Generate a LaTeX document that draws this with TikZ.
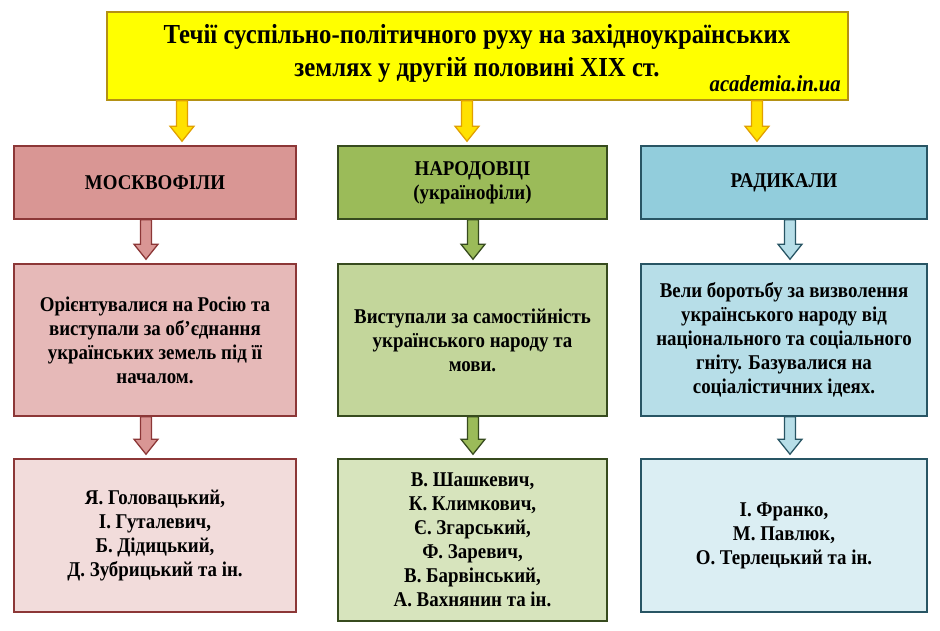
\documentclass[tikz,border=0pt]{standalone}
\usepackage{fontspec}
\setmainfont{Liberation Serif}[FakeStretch=0.9]
\usepackage{tikz}
\usetikzlibrary{calc}

\definecolor{titlefill}{RGB}{255,255,0}
\definecolor{titleline}{RGB}{180,145,20}
\definecolor{arrfill}{RGB}{255,225,0}
\definecolor{arrline}{RGB}{225,160,0}
\definecolor{redA}{RGB}{217,150,148}
\definecolor{redB}{RGB}{230,185,184}
\definecolor{redC}{RGB}{242,220,219}
\definecolor{redline}{RGB}{140,55,55}
\definecolor{greenA}{RGB}{155,187,89}
\definecolor{greenB}{RGB}{195,214,155}
\definecolor{greenC}{RGB}{215,228,189}
\definecolor{greenline}{RGB}{55,75,30}
\definecolor{blueA}{RGB}{146,205,220}
\definecolor{blueB}{RGB}{183,222,232}
\definecolor{blueC}{RGB}{219,238,243}
\definecolor{blueline}{RGB}{40,85,100}

% block arrow from node #3 down to node #4 at the x of coordinate #5
\newcommand{\blockarr}[5]{%
	\coordinate (s) at (#3.south -| #5);
	\coordinate (t) at ($(#4.north -| #5)+(0,-4)$);
	\filldraw[fill=#1, draw=#2, line width=1.3pt, line join=miter]
		($(s)+(-5.5,0)$) -- ($(t)+(-5.5,-15)$) -- ($(t)+(-12,-15)$) -- (t)
		-- ($(t)+(12,-15)$) -- ($(t)+(5.5,-15)$) -- ($(s)+(5.5,0)$) -- cycle;
}

\begin{document}
\begin{tikzpicture}[x=1pt, y=-1pt,
	box/.style={draw, line width=1.5pt, align=center, inner sep=0pt,
		font=\fontsize{21}{24}\selectfont\bfseries},
	wbox/.style={box, minimum height=#1}]
	\useasboundingbox (0,0) rectangle (940,630);
	% title
	\node[box, fill=titlefill, draw=titleline, minimum width=741, minimum height=88,
		font=\fontsize{27.5}{33}\selectfont\bfseries] (title) at (477.5,56) {};
	\node[align=center, inner sep=0pt, font=\fontsize{27.5}{33}\selectfont\bfseries] (head) at (477,53)
		{Течії суспільно-політичного руху на західноукраїнських\\землях у другій половині XIX ст.};
	\node[anchor=east, inner sep=0pt, font=\fontsize{23}{26}\selectfont\bfseries\itshape] (site) at (841,84) {academia.in.ua};
	% first row
	\node[wbox=73, minimum width=282, fill=redA, draw=redline] (mk1) at (155,182.5) {МОСКВОФІЛИ};
	\node[wbox=73, minimum width=269, fill=greenA, draw=greenline] (nr1) at (472.5,182.5) {НАРОДОВЦІ\\(українофіли)};
	\node[wbox=73, minimum width=286, fill=blueA, draw=blueline] (rd1) at (784,182.5) {РАДИКАЛИ};
	% second row
	\node[wbox=152, minimum width=282, fill=redB, draw=redline] (mk2) at (155,340)
		{Орієнтувалися на Росію та\\виступали за об'єднання\\українських земель під її\\началом.};
	\node[wbox=152, minimum width=269, fill=greenB, draw=greenline] (nr2) at (472.5,340)
		{Виступали за самостійність\\українського народу та\\мови.};
	\node[wbox=152, minimum width=286, fill=blueB, draw=blueline] (rd2) at (784,340)
		{Вели боротьбу за визволення\\українського народу від\\національного та соціального\\гніту. Базувалися на\\соціалістичних ідеях.};
	% third row
	\node[wbox=153, minimum width=282, fill=redC, draw=redline] (mk3) at (155,535.5)
		{Я. Головацький,\\І. Гуталевич,\\Б. Дідицький,\\Д. Зубрицький та ін.};
	\node[wbox=162, minimum width=269, fill=greenC, draw=greenline] (nr3) at (472.5,540)
		{В. Шашкевич,\\К. Климкович,\\Є. Згарський,\\Ф. Заревич,\\В. Барвінський,\\А. Вахнянин та ін.};
	\node[wbox=153, minimum width=286, fill=blueC, draw=blueline] (rd3) at (784,535.5)
		{І. Франко,\\М. Павлюк,\\О. Терлецький та ін.};
	% arrows
	\coordinate (xa) at (182,0);
	\coordinate (xb) at (467,0);
	\coordinate (xc) at (757,0);
	\coordinate (xl) at (146,0);
	\coordinate (xm) at (473,0);
	\coordinate (xr) at (790,0);
	\blockarr{arrfill}{arrline}{title}{mk1}{xa}
	\blockarr{arrfill}{arrline}{title}{nr1}{xb}
	\blockarr{arrfill}{arrline}{title}{rd1}{xc}
	\blockarr{redA}{redline}{mk1}{mk2}{xl}
	\blockarr{redA}{redline}{mk2}{mk3}{xl}
	\blockarr{greenA}{greenline}{nr1}{nr2}{xm}
	\blockarr{greenA}{greenline}{nr2}{nr3}{xm}
	\blockarr{blueB}{blueline}{rd1}{rd2}{xr}
	\blockarr{blueB}{blueline}{rd2}{rd3}{xr}
\end{tikzpicture}
\end{document}
